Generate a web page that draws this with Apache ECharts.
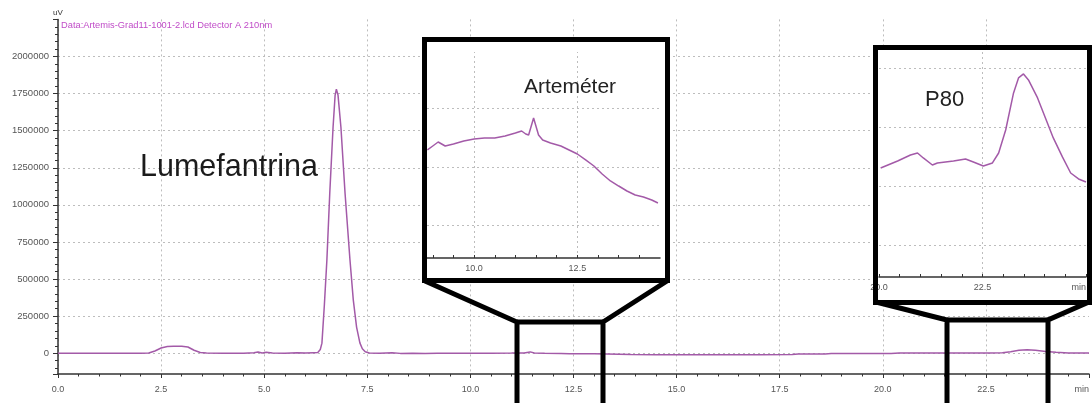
<!DOCTYPE html>
<html><head><meta charset="utf-8">
<script src="https://cdn.jsdelivr.net/npm/echarts@6/dist/echarts.min.js"></script>
<style>html,body{margin:0;padding:0;background:#fff}#c{width:1092px;height:403px}</style>
</head><body><div id="c"></div>
<script>
// ---- main chromatogram (time in min, signal in uV) ----
const mainTime = [0.0, 1.0, 2.0, 2.2, 2.35, 2.5, 2.65, 2.8, 3.0, 3.15, 3.3, 3.45, 3.6, 4.0, 4.5, 4.75, 4.85, 4.95, 5.05, 5.2, 5.5, 5.8, 6.0, 6.2, 6.3, 6.36, 6.40, 6.46, 6.52, 6.59, 6.67, 6.72, 6.75, 6.79, 6.86, 6.96, 7.08, 7.16, 7.24, 7.32, 7.38, 7.45, 7.55, 7.8, 8.1, 8.3, 8.6, 8.9, 9.2, 9.6, 10.0, 10.5, 11.0, 11.3, 11.45, 11.55, 11.8, 12.2, 12.4, 13.0, 13.6, 13.9, 14.5, 15.0, 16.0, 17.0, 17.8, 17.95, 18.6, 18.75, 19.5, 20.2, 20.4, 21.0, 22.0, 22.6, 22.9, 23.1, 23.3, 23.5, 23.7, 23.95, 24.2, 24.5, 25.0];
const mainSignal = [0, 0, 0, 1000, 15000, 35000, 45000, 47000, 47000, 42000, 20000, 5000, 1000, 0, 500, 3000, 8000, 2000, 7000, 1000, 0, 3000, 2000, 4000, 5000, 25000, 68000, 330000, 628000, 1080000, 1525000, 1740000, 1779000, 1740000, 1525000, 1080000, 628000, 360000, 176000, 70000, 30000, 10000, 2000, 0, 3000, -1000, 0, -2000, 0, 0, 0, 500, 1000, 2000, 9000, 2000, 0, -1000, -3000, -4000, -7000, -9000, -10000, -10000, -10000, -10000, -9000, -5000, -5000, -2000, -2000, -1500, 1000, 1500, 1500, 1500, 3000, 10000, 20000, 24000, 20000, 12000, 6000, 2000, 1000];

// ---- Arteméter inset (zoomed signal) ----
const artTime = [8.87, 9.00, 9.13, 9.30, 9.50, 9.75, 10.0, 10.25, 10.5, 10.75, 11.0, 11.15, 11.25, 11.32, 11.44, 11.56, 11.66, 11.85, 12.1, 12.3, 12.5, 12.7, 12.9, 13.1, 13.3, 13.5, 13.7, 13.9, 14.1, 14.3, 14.45];
const artSignal = [2910, 3590, 4270, 3590, 3930, 4440, 4790, 4960, 4960, 5300, 5810, 6150, 5640, 5470, 8380, 5470, 4620, 4100, 3590, 2910, 2220, 1200, 170, -1200, -2390, -3250, -4100, -4790, -5130, -5640, -6150];

// ---- P80 inset (zoomed signal) ----
const p80Time = [20.04, 20.45, 20.76, 20.93, 21.07, 21.29, 21.41, 21.80, 22.09, 22.28, 22.52, 22.74, 22.89, 23.06, 23.25, 23.37, 23.49, 23.61, 23.83, 24.02, 24.21, 24.43, 24.63, 24.82, 25.0];
const p80Signal = [13050, 14240, 15250, 15590, 14750, 13560, 13900, 14240, 14580, 14070, 13390, 13900, 15590, 19490, 25760, 28310, 28980, 27970, 24920, 21530, 18140, 14920, 12200, 11190, 10680];

// ---- tick / label values ----
const artTickValues = [9.0, 9.5, 10.0, 10.5, 11.0, 11.5, 12.0, 12.5, 13.0, 13.5, 14.0];
const artLabelValues = [10.0, 12.5];
const artGridValues = [10.0, 12.5];
const labels = { main: 'Lumefantrina', art: 'Arteméter', p80: 'P80' };
const headerText = 'Data:Artemis-Grad11-1001-2.lcd Detector A 210nm';
const yUnit = 'uV';
const xUnit = 'min';

const toPairs = (xs, ys) => xs.map((x, i) => [x, ys[i]]);
const FONT = 'Liberation Sans, Arial, sans-serif';
const LINE = '#a35aa8';
const GRIDC = '#bdbdbd';
const AXC = '#333';
const dash = [2, 3];

const chart = echarts.init(document.getElementById('c'), null, { renderer: 'canvas' });
chart.setOption({
  animation: false,
  backgroundColor: '#fff',
  textStyle: { fontFamily: FONT },
  title: {
    text: headerText, left: 61, top: 21, padding: 0,
    textStyle: { fontSize: 9.3, fontWeight: 'normal', color: '#c04cc8', fontFamily: FONT }
  },
  grid: [
    { left: 58, top: 19.4, width: 1034, height: 354.6 },
    { left: 427, top: 52, width: 233, height: 206 },
    { left: 879, top: 52, width: 207, height: 225 }
  ],
  xAxis: [
    {
      type: 'value', gridIndex: 0, min: 0, max: 25, interval: 2.5,
      axisLine: { onZero: false, lineStyle: { color: AXC, width: 1.5 } },
      axisTick: { length: 4, lineStyle: { color: AXC } },
      minorTick: { show: true, splitNumber: 5, length: 2.5, lineStyle: { color: AXC } },
      axisLabel: {
        fontSize: 9, color: '#555', margin: 11, alignMaxLabel: 'right',
        formatter: v => (Math.abs(v - 25) < 1e-6 ? xUnit : v.toFixed(1))
      },
      splitLine: { show: true, showMaxLine: false, lineStyle: { type: dash, color: GRIDC, width: 1 } }
    },
    {
      type: 'value', gridIndex: 1, min: 8.86, max: 14.5, z: 12,
      axisLine: { onZero: false, lineStyle: { color: AXC, width: 1.5 } },
      axisTick: { customValues: artTickValues, length: 3, inside: true, lineStyle: { color: AXC } },
      axisLabel: { customValues: artLabelValues, fontSize: 9, color: '#555', margin: 6, formatter: v => v.toFixed(1) },
      splitLine: { show: false }
    },
    {
      type: 'value', gridIndex: 2, min: 20, max: 25, interval: 2.5, z: 12,
      axisLine: { onZero: false, lineStyle: { color: AXC, width: 1.5 } },
      axisTick: { length: 3, inside: true, lineStyle: { color: AXC } },
      minorTick: { show: true, splitNumber: 5, length: 3, lineStyle: { color: AXC } },
      axisLabel: {
        fontSize: 9, color: '#555', margin: 6, alignMaxLabel: 'right',
        formatter: v => (Math.abs(v - 25) < 1e-6 ? xUnit : v.toFixed(1))
      },
      splitLine: { show: true, showMinLine: false, showMaxLine: false, lineStyle: { type: dash, color: GRIDC, width: 1 } }
    }
  ],
  yAxis: [
    {
      type: 'value', gridIndex: 0, min: -140000, max: 2250000, minInterval: 250000, maxInterval: 250000,
      name: yUnit, nameLocation: 'end', nameGap: 3,
      nameTextStyle: { fontSize: 8, color: '#333', align: 'center' },
      axisLine: { show: true, onZero: false, lineStyle: { color: AXC, width: 1.5 } },
      axisTick: { show: true, length: 5, lineStyle: { color: AXC } },
      minorTick: { show: true, splitNumber: 5, length: 3, lineStyle: { color: AXC } },
      axisLabel: {
        fontSize: 9.5, color: '#555', margin: 9, showMinLabel: false, showMaxLabel: false,
        formatter: v => (v < 0 || v > 2000000 ? '' : String(Math.round(v)))
      },
      splitLine: { show: true, showMinLine: false, showMaxLine: false, lineStyle: { type: dash, color: GRIDC, width: 1 } }
    },
    {
      type: 'value', gridIndex: 1, min: -15550, max: 19650, minInterval: 10000, maxInterval: 10000, z: 11,
      axisLine: { show: false }, axisTick: { show: false }, axisLabel: { show: false },
      splitLine: { show: true, showMinLine: false, showMaxLine: false, lineStyle: { type: dash, color: GRIDC, width: 1 } }
    },
    {
      type: 'value', gridIndex: 2, min: -5420, max: 32700, minInterval: 10000, maxInterval: 10000, z: 11,
      axisLine: { show: false }, axisTick: { show: false }, axisLabel: { show: false },
      splitLine: { show: true, showMinLine: false, showMaxLine: false, lineStyle: { type: dash, color: GRIDC, width: 1 } }
    }
  ],
  series: [
    {
      type: 'line', xAxisIndex: 0, yAxisIndex: 0, data: toPairs(mainTime, mainSignal),
      symbol: 'none', smooth: false, z: 2, lineStyle: { color: LINE, width: 1.5 }
    },
    {
      type: 'line', xAxisIndex: 1, yAxisIndex: 1, data: toPairs(artTime, artSignal),
      symbol: 'none', z: 12, lineStyle: { color: LINE, width: 1.5 },
      markLine: {
        silent: true, symbol: ['none', 'none'], label: { show: false },
        lineStyle: { type: dash, color: GRIDC, width: 1 },
        data: artGridValues.map(v => ({ xAxis: v }))
      }
    },
    {
      type: 'line', xAxisIndex: 2, yAxisIndex: 2, data: toPairs(p80Time, p80Signal),
      symbol: 'none', z: 12, lineStyle: { color: LINE, width: 1.5 }
    }
  ],
  graphic: [
    // inset backgrounds
    { type: 'rect', z: 5, shape: { x: 422, y: 37, width: 248, height: 246 }, style: { fill: '#fff' } },
    { type: 'rect', z: 5, shape: { x: 873, y: 45, width: 220, height: 260 }, style: { fill: '#fff' } },
    // inset frames
    { type: 'rect', z: 30, shape: { x: 424.5, y: 39.5, width: 243, height: 241 }, style: { fill: null, stroke: '#000', lineWidth: 5 } },
    { type: 'polyline', z: 30, shape: { points: [[425, 281], [517, 322], [517, 410]] }, style: { fill: null, stroke: '#000', lineWidth: 5 } },
    { type: 'polyline', z: 30, shape: { points: [[667, 281], [603, 322], [603, 410]] }, style: { fill: null, stroke: '#000', lineWidth: 5 } },
    { type: 'polyline', z: 30, shape: { points: [[517, 322], [603, 322]] }, style: { fill: null, stroke: '#000', lineWidth: 5 } },
    { type: 'rect', z: 30, shape: { x: 875.5, y: 47.5, width: 214, height: 255 }, style: { fill: null, stroke: '#000', lineWidth: 5 } },
    { type: 'polyline', z: 30, shape: { points: [[876, 302], [947, 320], [947, 410]] }, style: { fill: null, stroke: '#000', lineWidth: 5 } },
    { type: 'polyline', z: 30, shape: { points: [[1089, 302], [1048, 320], [1048, 410]] }, style: { fill: null, stroke: '#000', lineWidth: 5 } },
    { type: 'polyline', z: 30, shape: { points: [[947, 320], [1048, 320]] }, style: { fill: null, stroke: '#000', lineWidth: 5 } },
    // annotations
    { type: 'text', z: 31, x: 140, y: 168, style: { text: labels.main, font: '30.5px ' + FONT, fill: '#1b1b1b', verticalAlign: 'middle' } },
    { type: 'text', z: 31, x: 570, y: 87, style: { text: labels.art, font: '21px ' + FONT, fill: '#222', align: 'center', verticalAlign: 'middle' } },
    { type: 'text', z: 31, x: 925, y: 100, style: { text: labels.p80, font: '22px ' + FONT, fill: '#222', verticalAlign: 'middle' } }
  ]
});
</script>
</body></html>
